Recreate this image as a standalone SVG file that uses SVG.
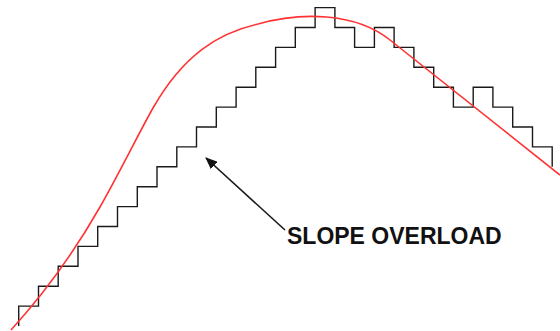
<svg xmlns="http://www.w3.org/2000/svg" width="560" height="331" viewBox="0 0 560 331">
  <style>
    .stair { fill: none; stroke: #1a1a1a; stroke-width: 1.4; stroke-linejoin: miter; }
    .signal { fill: none; stroke: #ff3333; stroke-width: 1.6; }
    .conn { fill: none; stroke: #1a1a1a; stroke-width: 1.6; }
    .label { font-family: "Liberation Sans", Arial, sans-serif; font-weight: bold; font-size: 23px; fill: #111; }
  </style>
  <defs>
    <marker id="arrow" viewBox="0 0 12 10" refX="11" refY="5" markerWidth="12" markerHeight="10" markerUnits="userSpaceOnUse" orient="auto">
      <path d="M0 0 L12 5 L0 10 Z" fill="#111"/>
    </marker>
  </defs>
  <rect width="560" height="331" fill="#ffffff"/>
  <g id="staircase">
    <path class="stair" d="M18.7 326 V306.1 H38.5 V286.2 H58.2 V266.3 H78 V246.4 H97.7 V226.5 H117.5 V206.6 H137.3 V186.7 H157 V166.8 H176.8 V146.9 H196.5 V127 H216.3 V107.1 H236.1 V87.2 H255.8 V67.3 H275.6 V47.4 H295.3 V27.5 H315.1 V7.6 H334.9 V27.5 H354.6 V47.4 H374.4 V27.5 H394.1 V47.4 H413.9 V67.3 H433.7 V87.2 H453.4 V107.1 H473.2 V87.2 H492.9 V107.1 H512.7 V127 H532.5 V146.9 H552.2 V166.8"/>
  </g>
  <g id="signal">
    <path class="signal" d="M11 330 C41 297, 70 259.5, 100 207 C118 175.5, 141 129, 153 108 C183 55.5, 218 32.8, 258 24 C300 12, 355 12, 390 40 L560 175"/>
  </g>
  <g id="connectors">
    <line class="conn" x1="285" y1="230" x2="206" y2="158" marker-end="url(#arrow)"/>
  </g>
  <g id="label-slope-overload">
    <text class="label" x="287" y="244">SLOPE OVERLOAD</text>
  </g>
</svg>
